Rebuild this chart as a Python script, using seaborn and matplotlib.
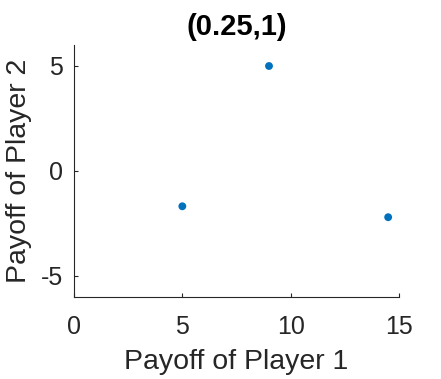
import matplotlib
matplotlib.use("Agg")
import matplotlib.pyplot as plt
import seaborn as sns
import pandas as pd

payoff_p1 = [5.0, 9.0, 14.5]
payoff_p2 = [-1.68, 5.0, -2.2]
title = "(0.25,1)"
x_label = "Payoff of Player 1"
y_label = "Payoff of Player 2"
x_ticks = [0, 5, 10, 15]
y_ticks = [-5, 0, 5]
y_tick_labels = ["-5", "0", "5"]

sns.set_theme(style="ticks")
plt.rcParams["font.family"] = ["Liberation Sans", "DejaVu Sans"]
txt = "#262626"

df = pd.DataFrame({"p1": payoff_p1, "p2": payoff_p2})

fig = plt.figure(figsize=(4.41, 3.79), dpi=100)
ax = fig.add_axes([74/441, 1-297/379, (399-74)/441, (297-45)/379])
sns.scatterplot(data=df, x="p1", y="p2", ax=ax, color="#0072BD", s=32,
                edgecolor="none", linewidth=0)
ax.set_xlim(0, 15)
ax.set_ylim(-6, 6)
ax.set_xticks(x_ticks)
ax.set_yticks(y_ticks)
ax.set_yticklabels(y_tick_labels)
ax.tick_params(direction="in", length=3, width=0.8, colors=txt, labelsize=18)
ax.tick_params(axis="x", pad=13)
ax.tick_params(axis="y", pad=8)
for s in ["top", "right"]:
    ax.spines[s].set_visible(False)
for s in ["left", "bottom"]:
    ax.spines[s].set_color(txt)
    ax.spines[s].set_linewidth(0.8)
ax.set_xlabel(x_label, fontsize=20.5, color=txt, labelpad=7)
ax.set_ylabel(y_label, fontsize=20.5, color=txt, labelpad=6)
ax.set_title(title, fontsize=21, fontweight="bold", color="black", pad=7)
fig.savefig("out.png", dpi=100)
